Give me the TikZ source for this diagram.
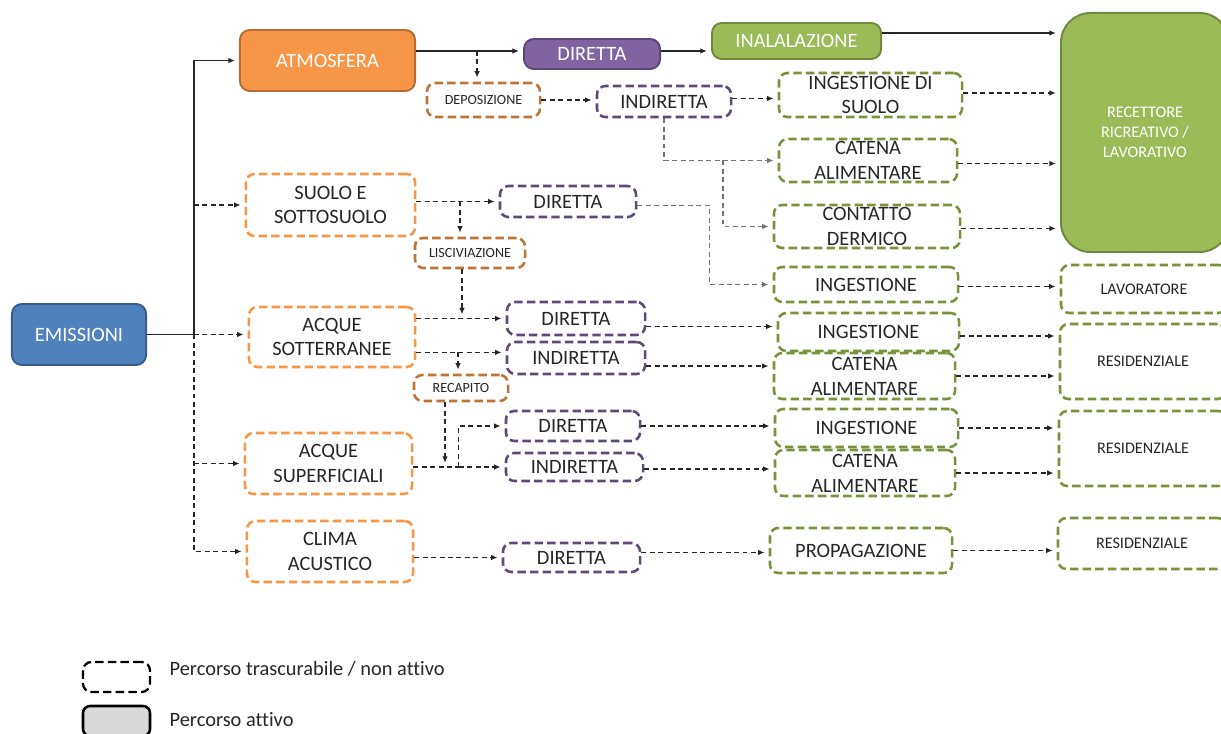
\documentclass[tikz,border=0pt]{standalone}
\usepackage{fontspec}
\setmainfont{Carlito}[Ligatures=NoCommon]
\usetikzlibrary{arrows.meta}
\definecolor{emblu}{HTML}{4F81BD}
\definecolor{embluD}{HTML}{385D8A}
\definecolor{arancio}{HTML}{F79646}
\definecolor{arancioD}{HTML}{B66D31}
\definecolor{ruggine}{HTML}{BE7337}
\definecolor{viola}{HTML}{8064A2}
\definecolor{violaD}{HTML}{5C4776}
\definecolor{violaT}{HTML}{60497A}
\definecolor{verde}{HTML}{9BBB59}
\definecolor{verdeD}{HTML}{71893F}
\definecolor{verdeT}{HTML}{77933C}
\begin{document}
\begin{tikzpicture}[x=0.025cm, y=-0.025cm,
every node/.style={inner sep=1pt, align=center, text=black!85,
    font=\fontsize{14.5}{17.7}\selectfont
    },
wh/.style 2 args={minimum width=#1cm, minimum height=#2cm},
piena/.style 2 args={draw=#2, fill=#1, line width=1.4pt, rounded corners=7pt, text=white},
tratto/.style={draw=#1, line width=1.8pt, rounded corners=6pt, dash pattern=on 6pt off 3pt},
piccolo/.style={font=\fontsize{10}{12}\selectfont},
medio/.style={font=\fontsize{11.5}{14.2}\selectfont},
freccia/.style={draw=black!85, line width=0.9pt, -{Latex[length=4.5pt,width=4pt]}, shorten >=3pt},
tfreccia/.style={freccia, dash pattern=on 3.5pt off 2.5pt},
tlinea/.style={draw=black!85, line width=0.9pt, dash pattern=on 3.5pt off 2.5pt}
]
\useasboundingbox (0,0) rectangle (1221,734);

\node[piena={emblu}{embluD}, wh={3.35}{1.525}] (emis) at (79,334.5) {EMISSIONI};
\node[piena={arancio}{arancioD}, wh={4.375}{1.525}] (atm) at (327.5,60.5) {ATMOSFERA};
\node[piena={viola}{violaD}, wh={3.4}{0.75}] (dir1) at (592,54) {DIRETTA};
\node[piena={verde}{verdeD}, wh={4.225}{0.9}] (inal) at (796.5,41) {INALALAZIONE};
\node[piena={verde}{verdeD}, rounded corners=21pt, wh={4.2}{5.975}, medio] (rec) at (1145,132.5) {RECETTORE\\RICREATIVO /\\LAVORATIVO};

\node[tratto=ruggine, wh={2.825}{0.85}, piccolo] (depo) at (483.5,100) {DEPOSIZIONE};
\node[tratto=violaT, wh={3.35}{0.775}] (indir1) at (664,101.5) {INDIRETTA};
\node[tratto=verdeT, wh={4.575}{1.1}] (ingDs) at (870.5,95) {INGESTIONE DI\\SUOLO};
\node[tratto=verdeT, wh={4.45}{1.075}] (catAtm) at (868,160.5) {CATENA\\ALIMENTARE};
\node[tratto=verdeT, wh={4.65}{1.075}] (cont) at (867,226.5) {CONTATTO\\DERMICO};

\node[tratto=arancio, wh={4.225}{1.55}] (suolo) at (330.5,205) {SUOLO E\\SOTTOSUOLO};
\node[tratto=violaT, wh={3.4}{0.775}] (dirSuolo) at (568,201.5) {DIRETTA};
\node[tratto=ruggine, wh={2.75}{0.75}, piccolo] (lisc) at (470,253) {LISCIVIAZIONE};
\node[tratto=verdeT, wh={4.6}{0.875}] (ing1) at (866,284.5) {INGESTIONE};
\node[tratto=verdeT, wh={4.15}{1.2}, medio] (lav) at (1144,289) {LAVORATORE};

\node[tratto=arancio, wh={4.15}{1.5}] (sott) at (332,337) {ACQUE\\SOTTERRANEE};
\node[tratto=violaT, wh={3.45}{0.825}] (dirSott) at (576,318.5) {DIRETTA};
\node[tratto=violaT, wh={3.45}{0.8}] (indirSott) at (576,358) {INDIRETTA};
\node[tratto=ruggine, wh={2.35}{0.65}, piccolo] (recap) at (461,388) {RECAPITO};
\node[tratto=verdeT, wh={4.525}{0.95}] (ingSott) at (868.5,332) {INGESTIONE};
\node[tratto=verdeT, wh={4.525}{1.15}] (catSott) at (864.5,376) {CATENA\\ALIMENTARE};
\node[tratto=verdeT, wh={4.15}{1.875}, medio] (res1) at (1143,361.5) {RESIDENZIALE};

\node[tratto=arancio, wh={4.175}{1.525}] (sup) at (328.5,463.5) {ACQUE\\SUPERFICIALI};
\node[tratto=violaT, wh={3.35}{0.75}] (dirSup) at (573,426) {DIRETTA};
\node[tratto=violaT, wh={3.425}{0.7}] (indirSup) at (574.5,467) {INDIRETTA};
\node[tratto=verdeT, wh={4.575}{0.95}] (ingSup) at (866.5,428) {INGESTIONE};
\node[tratto=verdeT, wh={4.5}{1.15}] (catSup) at (865,473) {CATENA\\ALIMENTARE};
\node[tratto=verdeT, wh={4.2}{1.875}, medio] (res2) at (1143,448.5) {RESIDENZIALE};

\node[tratto=arancio, wh={4.15}{1.525}] (clima) at (330,551.5) {CLIMA\\ACUSTICO};
\node[tratto=violaT, wh={3.425}{0.725}] (dirClima) at (571.5,557.5) {DIRETTA};
\node[tratto=verdeT, wh={4.55}{1.125}] (prop) at (861,550.5) {PROPAGAZIONE};
\node[tratto=verdeT, wh={4.2}{1.275}, medio] (res3) at (1142,543.5) {RESIDENZIALE};

%legenda
\node[tratto=black, line width=1.6pt, wh={1.675}{0.75}] (legT) at (116.5,677) {};
\node[draw=black, fill=black!15, rounded corners=5pt, line width=1.8pt, wh={1.675}{0.75}] (legA) at (116.5,721) {};
\node[anchor=west] (txtT) at (168,669) {Percorso trascurabile / non attivo};
\node[anchor=west] (txtA) at (168,720) {Percorso attivo};

\path (emis.east) ++(47,0) coordinate (tr);
\draw[freccia] (emis.east) -- (tr) |- (atm.west);
\draw[tfreccia] (tr) |- (clima.west);
\draw[tfreccia] (tr) -- (tr -| sott.west);
\foreach \n in {suolo,sup}
    \draw[tfreccia] (tr |- \n.west) -- (\n.west);

\draw[freccia] ([yshift=0.075cm]atm.east |- dir1.west) -- ([yshift=0.075cm]dir1.west);
\draw[freccia] ([yshift=0.075cm]dir1.east) -- ([yshift=0.075cm]dir1.east -| inal.west);
\draw[freccia] ([yshift=0.2cm]inal.east) -- ([yshift=0.2cm]inal.east -| rec.west);
\draw[tfreccia] ([xshift=-0.16cm, yshift=0.075cm]depo.north |- dir1.west) -- ([xshift=-0.16cm]depo.north);

\foreach \a/\b/\s in {depo/indir1/0, indir1/ingDs/0.075, ingDs/rec/0.05, catAtm/rec/-0.075,
                      cont/rec/-0.05, ing1/lav/-0.05, dirSott/ingSott/-0.2, indirSott/catSott/-0.2,
                      ingSott/res1/-0.1, catSott/res1/0, dirSup/ingSup/0, indirSup/catSup/-0.05,
                      ingSup/res2/0, catSup/res2/0, dirClima/prop/0.125, prop/res3/0%
            }
    \draw[tfreccia] ([yshift=\s cm]\a.east) -- ([yshift=\s cm]\a.east -| \b.west);

\draw[tfreccia] (suolo.east |- dirSuolo.west) -- (dirSuolo.west);
\draw[tfreccia] (sott.east |- dirSott.west) -- (dirSott.west);
\draw[tfreccia] ([yshift=0.14cm]sott.east |- indirSott.west) -- ([yshift=0.14cm]indirSott.west);
\draw[tfreccia] (clima.east |- dirClima.west) -- (dirClima.west);

\draw[tfreccia] ([xshift=-0.25cm]lisc.north |- dirSuolo.west) -- ([xshift=-0.25cm]lisc.north);
\draw[tfreccia] ([xshift=-0.2cm]lisc.south) -- ([xshift=-0.2cm]lisc.south |- dirSott.west);
\draw[tfreccia] ([xshift=-0.075cm, yshift=0.14cm]recap.north |- indirSott.west) -- ([xshift=-0.075cm]recap.north);

\path (indirSup.west) ++(-46,0) coordinate (sp);
\draw[tlinea] (sup.east |- sp) -- (sp);
\draw[tfreccia] (sp) |- (dirSup.west);
\draw[tfreccia] (sp) -- (indirSup.west);
\draw[tfreccia] ([xshift=-0.4cm]recap.south) -- ([xshift=-0.4cm]recap.south |- sp);

\draw[tfreccia, draw=black!55] (indir1.south) |- (catAtm.west);
\path (indir1.south |- catAtm.west) ++(59,0) coordinate (br);
\draw[tfreccia, draw=black!55] (br) |- (cont.west);
\draw[tfreccia, draw=black!55] ([yshift=-0.1cm]dirSuolo.east) -- ++(72,0) |- (ing1.west);

\end{tikzpicture}
\end{document}
